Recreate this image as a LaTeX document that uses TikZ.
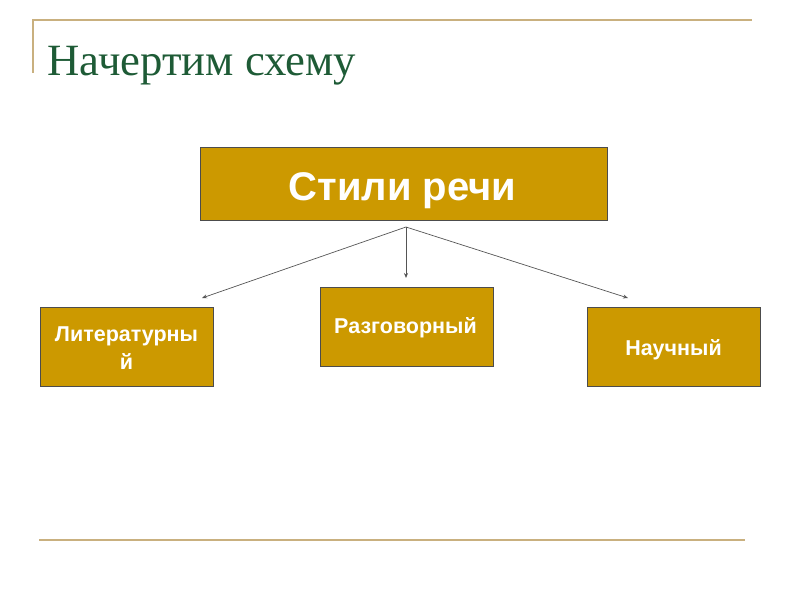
\documentclass[tikz,border=0pt]{standalone}
\usepackage{fontspec}
\setmainfont{Liberation Serif}
\newfontfamily\arialb{Liberation Sans}[BoldFont={Liberation Sans Bold}]
\usetikzlibrary{arrows.meta}
\definecolor{gold}{HTML}{CC9900}
\definecolor{rulegold}{HTML}{C9B07F}
\definecolor{titlegreen}{HTML}{1E5B36}
\definecolor{conn}{HTML}{555555}
\tikzset{
  stylebox/.style={draw=black!70, line width=0.8pt, fill=gold, inner sep=0pt},
  boxtext/.style={text=white, align=center, inner sep=0pt, font=\arialb\bfseries\fontsize{21.5}{25}\selectfont},
  conline/.style={draw=conn, line width=0.7pt, -{Stealth[length=5pt,width=4pt]}},
}
\begin{document}
\begin{tikzpicture}[x=1pt,y=-1pt]
\useasboundingbox (0,0) rectangle (800,600);
% rules
\draw[rulegold, line width=2pt] (33,20) -- (752,20);
\draw[rulegold, line width=2pt] (33,19) -- (33,73);
\draw[rulegold, line width=2.5pt] (39,540) -- (745,540);
% title
\node[anchor=base west, text=titlegreen, font=\fontsize{44.7}{50}\selectfont, inner sep=0pt] (title) at (47.5,75) {Начертим схему};
% boxes
\node[stylebox, minimum width=407pt, minimum height=73pt] (top) at (403.5,183.5) {};
\node[boxtext, anchor=base, font=\arialb\bfseries\fontsize{40}{44}\selectfont] (toptext) at (402.5,200) {Стили речи};
\node[stylebox, minimum width=173pt, minimum height=79pt] (lit) at (126.5,346.5) {};
\node[boxtext] (littext) at (126.5,348) {Литературны\\[3pt]й};
\node[stylebox, minimum width=173pt, minimum height=79pt] (razg) at (406.5,326.5) {};
\node[boxtext, anchor=base] (razgtext) at (405.5,333) {Разговорный};
\node[stylebox, minimum width=173pt, minimum height=79pt] (nauch) at (673.5,346.5) {};
\node[boxtext, anchor=base] (nauchtext) at (673.5,355) {Научный};
% connectors
\coordinate (src) at (406,227);
\coordinate (tl) at (202,298);
\coordinate (tm) at (406,278);
\coordinate (tr) at (628,298);
\draw[conline] (src) -- (tl);
\draw[conline] (src) -- (tm);
\draw[conline] (src) -- (tr);
\end{tikzpicture}
\end{document}
